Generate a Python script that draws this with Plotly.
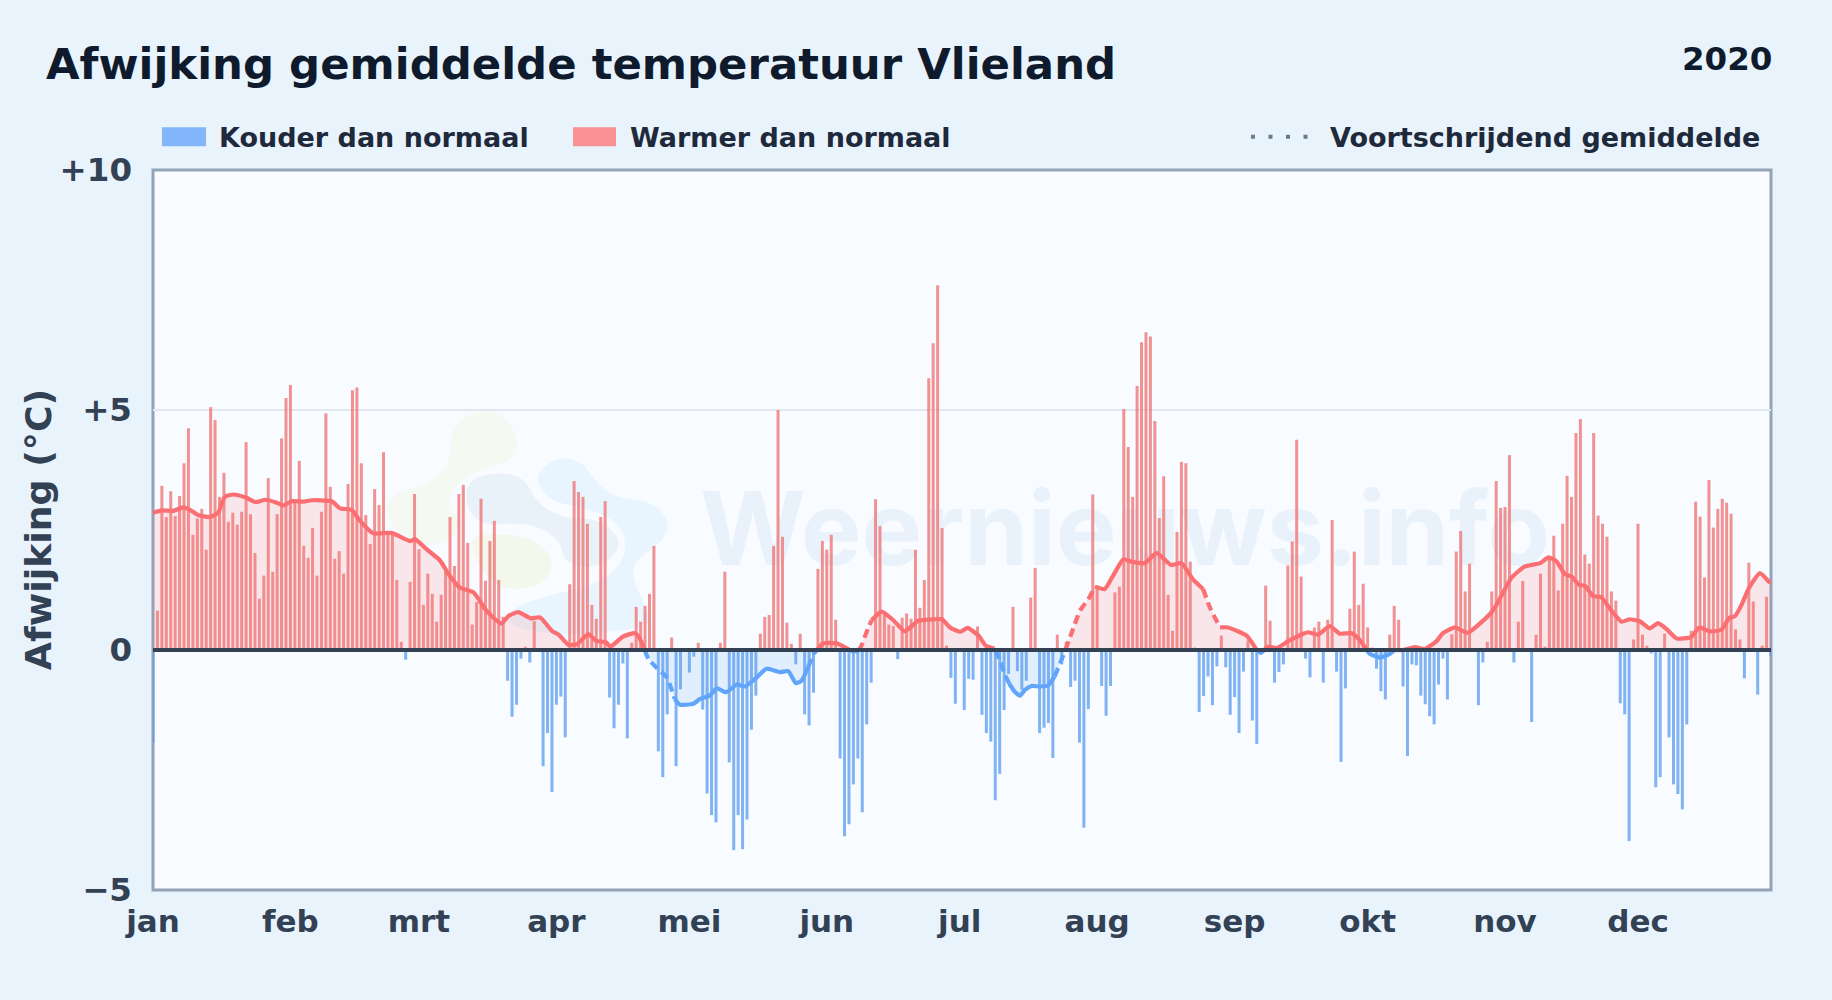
import plotly.graph_objects as go

# ---------- data ----------
month_days = [0, 31, 60, 91, 121, 152, 182, 213, 244, 274, 305, 335]
month_labels = ["jan", "feb", "mrt", "apr", "mei", "jun", "jul", "aug", "sep", "okt", "nov", "dec"]
y_ticks = [-5, 0, 5, 10]
y_labels = ["\u22125", "0", "+5", "+10"]

deviation = [
    -1.94, .82, 3.42, 2.77, 3.31, 2.79, 3.21, 3.89, 4.62, 2.40,
    2.74, 2.94, 2.09, 5.06, 4.79, 3.19, 3.69, 2.67, 2.86, 2.61,
    2.88, 4.33, 2.83, 2.02, 1.07, 1.55, 3.58, 1.63, 2.83, 4.41,
    5.25, 5.52, 3.1, 3.94, 2.17, 1.92, 2.54, 1.55, 2.88, 4.93,
    3.40, 1.90, 2.06, 1.59, 3.46, 5.41, 5.47, 3.89, 2.81, 2.21,
    3.35, 3.02, 4.12, 2.45, 2.45, 1.46, .17, -.2, 1.42, 3.25,
    2.1, .94, 1.59, 1.17, .59, 1.15, 1.65, 2.77, 1.75, 3.25,
    3.44, 2.23, .53, 1.0, 3.15, 1.44, 2.27, 2.69, 1.46, .69,
    -.64, -1.39, -1.14, -.18, .07, -.26, .6, 0, -2.42, -1.73,
    -2.96, -1.14, -.97, -1.82, 1.37, 3.52, 3.29, 3.19, 2.63, .94,
    .65, 2.77, 3.10, -.99, -1.63, -1.14, -.28, -1.84, .15, .90,
    .59, .92, 1.17, 2.17, -2.11, -2.65, -1.34, .26, -2.42, -.82,
    0, -.47, -.14, .15, -1.24, -2.99, -3.44, -3.59, .15, 1.63,
    -2.34, -4.17, -3.44, -4.15, -3.53, -1.66, -.95, .34, .69, .73,
    2.17, 5.0, 2.36, .57, .13, -.3, .34, -1.34, -1.57, -.89,
    1.69, 2.27, 2.09, 2.40, .63, -2.26, -3.88, -3.63, -2.8, -2.26,
    -3.38, -1.55, -.68, 3.14, 2.58, .75, .53, .5, -.19, .67,
    .76, .65, 2.09, .88, 1.46, 5.66, 6.39, 7.6, 2.54, .09,
    -.58, -1.12, 0, -1.25, -.6, -.62, .49, -1.35, -1.73, -1.91,
    -3.13, -2.58, -1.25, -.5, .9, -.44, -.83, -.64, 1.09, 1.71,
    -1.73, -1.62, -1.52, -2.25, .32, -.3, .17, -.77, -.64, -1.93,
    -3.7, -1.23, 3.24, 1.34, -.75, -1.37, -.75, 1.2, 1.32, 5.02,
    4.23, 3.19, 5.5, 6.41, 6.62, 6.53, 4.77, 2.75, 3.62, 1.15,
    .4, 2.46, 3.92, 3.89, 1.84, .05, -1.29, -.96, -.55, -1.15,
    -.34, .3, -.36, -1.35, -.98, -1.73, -.45, .2, -1.47, -1.96,
    0, 1.34, .61, -.68, -.46, -.3, 1.76, 2.26, 4.38, 1.53,
    -.18, -.57, .47, .59, -.68, .63, 2.71, -.45, -2.33, -.8,
    .86, 2.05, .94, 1.38, .47, .05, -.39, -.86, -1.03, .32,
    .92, .63, -.76, -2.21, -.3, -.32, -.95, -1.13, -1.38, -1.55,
    -.72, -.18, -1.03, .33, 2.05, 2.48, 1.22, 1.8, 0, -1.15,
    -.26, .17, 1.22, 3.52, 2.96, 2.98, 4.06, -.26, .59, 1.44,
    0, -1.5, .32, 1.59, .07, 1.9, 2.38, 1.24, 2.63, 3.63,
    3.19, 4.52, 4.81, 1.99, 1.8, 4.52, 2.8, 2.63, 2.36, 1.22,
    1.03, -1.11, -1.34, -3.98, .22, 2.63, .32, .09, -.07, -2.86,
    -2.65, .34, -1.82, -2.8, -3.0, -3.32, -1.55, .4, 3.09, 2.78,
    1.51, 3.54, 2.55, 2.94, 3.15, 3.07, 2.84, .43, .22, -.59,
    1.82, 1.01, -.93, .09, 1.11, -.13,
]

ma_days = [
    0, 2, 4.6, 6.8, 8.7, 10.2, 12.8, 14.7, 16.2, 18.1, 21.1, 23.2, 25.3, 27.9, 29.4, 31.3, 33.9, 35.8,
    40.3, 42.2, 44.8, 46.7, 49.7, 53.8, 58, 59.1, 61.7, 64.7, 66.9, 69.2, 72.3, 75.2, 78.5, 80.2, 82.4,
    85.2, 87.3, 90, 91.5, 93.7, 95.6, 98.2, 100, 102.2, 103.2, 106, 108.7, 109.7, 110.8, 111.8, 113.6,
    115.9, 117.7, 118.9, 121.9, 123.4, 125.6, 127.2, 129.3, 131.7, 133.5, 136.2, 138.4, 141.4, 143.3,
    145, 146.3, 147.8, 149, 149.7, 151.2, 154.2, 156, 158.3, 159.5, 161.3, 162.1, 164.4, 167, 169.6,
    172.6, 174.5, 178, 179.8, 182.1, 183.8, 186.2, 187.9, 189.8, 191, 192.2, 193.1, 194.4, 195.6, 196.7,
    198.2, 200, 201.9, 203.4, 204.6, 205.7, 207.4, 209.1, 211, 212.5, 214.7, 216.6, 218.9, 220.7, 223.7,
    226.4, 229.7, 232, 234.7, 236.9, 238.4, 240.7, 242.5, 246.7, 249, 249.9, 251.6, 253.5, 256, 259.5,
    260.6, 262.8, 265.5, 267.7, 270.4, 272.2, 273.8, 274.5, 276.8, 279, 280.1, 282, 284.7, 286.9, 289.5,
    291, 293.7, 296.6, 301.6, 303, 306.5, 309.5, 312.9, 314.8, 316.6, 318.5, 320, 321.8, 323, 324.9,
    326.7, 329, 331.3, 333.1, 335.4, 337.7, 339.5, 341.4, 343.7, 347, 348.8, 351.2, 353.8, 355.6, 356.8,
    358.3, 359.8, 360.6, 362.5, 364.7, 365,
]
ma_values = [
    2.86, 2.91, 2.90, 2.97, 2.90, 2.81, 2.77, 2.86, 3.19, 3.24, 3.17, 3.08, 3.13, 3.07, 3.01, 3.10, 3.09, 3.12,
    3.10, 2.95, 2.92, 2.69, 2.43, 2.44, 2.27, 2.31, 2.10, 1.87, 1.55, 1.30, 1.20, .82, .55, .71, .79,
    .66, .68, .40, .32, .11, .12, .33, .19, .16, .07, .28, .35, .26, .02, -.19, -.37,
    -.57, -1.02, -1.14, -1.12, -1.02, -.95, -.80, -.88, -.72, -.76, -.57, -.39, -.46, -.44,
    -.69, -.64, -.36, -.08, -.01, .14, .14, .06, -.05, .03, .45, .62, .80, .62, .39,
    .61, .63, .64, .47, .38, .46, .30, .09, .03, -.21, -.52, -.69, -.87, -.95, -.83,
    -.75, -.76, -.74, -.55, -.28, -.03, .40, .82, 1.06, 1.32, 1.27, 1.55, 1.89, 1.84, 1.81,
    2.02, 1.77, 1.81, 1.46, 1.27, .89, .47, .47, .30, 0, -.06, .07, .04, .18, .34,
    .37, .32, .50, .34, .35, .21, 0, -.08, -.16, -.08, 0, 0, .06, .02, .18,
    .35, .47, .36, .75, .93, 1.51, 1.74, 1.81, 1.93, 1.85, 1.58, 1.53, 1.35, 1.34, 1.12,
    1.10, .82, .59, .64, .60, .45, .56, .44, .24, .27, .47, .39, .42, .67, .70,
    .93, 1.25, 1.38, 1.60, 1.41, 1.40,
]
ma_dashed_ranges = [(110.5, 118), (147.5, 150), (158.5, 162.5), (189.8, 193.1), (203, 212.5), (237.5, 240.2)]

# ---------- styles / geometry ----------
FONT = "DejaVu Sans"
PL, PR, PT, PB = 153, 1771, 169.7, 890
RED_BAR, BLUE_BAR = "rgba(239,110,110,0.75)", "rgba(88,155,238,0.75)"
RED_LINE, BLUE_LINE = "#fb6f72", "#60a5fa"
RED_FILL, BLUE_FILL = "rgba(248,113,113,0.15)", "rgba(96,165,250,0.15)"
DARK, TEXT2, TICK = "#0f1b2d", "#1e293b", "#334155"


def px(x):
    return (x - PL) / (PR - PL)


def py(y):
    return (PB - y) / (PB - PT)


# split the running mean at zero and by line style
points = []
for k, (d, v) in enumerate(zip(ma_days, ma_values)):
    if k and (ma_values[k - 1] * v < 0):
        d0, v0 = ma_days[k - 1], ma_values[k - 1]
        points.append((d0 + (d - d0) * (0 - v0) / (v - v0), 0.0))
    points.append((d, v))


def is_dashed(d):
    return any(a <= d <= b for a, b in ma_dashed_ranges)


segments = {}
prev_key = None
for (x0, y0), (x1, y1) in zip(points[:-1], points[1:]):
    mid_y = (y0 + y1) / 2
    key = (mid_y >= 0, is_dashed((x0 + x1) / 2))
    xs, ys = segments.setdefault(key, ([], []))
    if key != prev_key:
        if xs:
            xs.append(None)
            ys.append(None)
        xs.append(x0)
        ys.append(y0)
    xs.append(x1)
    ys.append(y1)
    prev_key = key

fig = go.Figure()

# area between running mean and zero
for sign, colour in ((1, RED_FILL), (-1, BLUE_FILL)):
    fig.add_trace(go.Scatter(
        x=[p[0] for p in points],
        y=[max(p[1], 0) if sign > 0 else min(p[1], 0) for p in points],
        mode="lines", line=dict(width=0, color=colour), fill="tozeroy", fillcolor=colour,
        hoverinfo="skip", showlegend=False))

days = list(range(len(deviation)))
BAR_W = 0.677
fig.add_trace(go.Bar(x=days, y=[v if v < 0 else None for v in deviation], width=BAR_W,
                     marker=dict(color=BLUE_BAR, line_width=0), name="Kouder dan normaal", showlegend=False))
fig.add_trace(go.Bar(x=days, y=[v if v >= 0 else None for v in deviation], width=BAR_W,
                     marker=dict(color=RED_BAR, line_width=0), name="Warmer dan normaal", showlegend=False))

for (warm, dashed), (xs, ys) in segments.items():
    fig.add_trace(go.Scatter(
        x=xs, y=ys, mode="lines",
        line=dict(color=RED_LINE if warm else BLUE_LINE, width=4.2, dash="9px,5px" if dashed else "solid",
                  shape="spline", smoothing=0.5),
        name="Voortschrijdend gemiddelde", showlegend=False, hoverinfo="skip"))


# decorative logo blobs, drawn in zoom-crop coordinates (origin 330,390, 3x)
def blob(pts):
    real = [(px(330 + a / 3), py(390 + b / 3)) for a, b in pts]
    n = len(real)
    mids = [((real[i][0] + real[(i + 1) % n][0]) / 2, (real[i][1] + real[(i + 1) % n][1]) / 2) for i in range(n)]
    path = f"M{mids[-1][0]},{mids[-1][1]} "
    for i in range(n):
        path += f"Q{real[i][0]},{real[i][1]} {mids[i][0]},{mids[i][1]} "
    return path + "Z"


blobs = [
    ("#f4f9f1", [(360, 120), (430, 62), (520, 68), (568, 150), (548, 212), (450, 240), (385, 275), (350, 340),
                 (395, 400), (350, 465), (230, 455), (165, 380), (185, 312), (300, 280), (365, 215)]),
    ("#e9f1f9", [(410, 270), (500, 245), (585, 262), (620, 340), (700, 385), (800, 385), (870, 440), (860, 495),
                 (790, 535), (705, 520), (690, 450), (620, 405), (530, 398), (470, 408), (408, 360)]),
    ("#f3f8ec", [(420, 440), (520, 428), (625, 450), (675, 520), (640, 585), (530, 602), (470, 560), (430, 495)]),
    ("#e9f5fe", [(618, 250), (680, 200), (755, 212), (800, 280), (860, 325), (965, 332), (1025, 400), (985, 468),
                 (915, 510), (905, 560), (945, 650), (965, 705), (850, 725), (700, 735), (555, 718), (525, 668),
                 (620, 625), (760, 592), (860, 545), (892, 470), (870, 400), (780, 355), (680, 340), (630, 300)]),
]
shapes = [dict(type="path", path=blob(p), xref="paper", yref="paper", fillcolor=c, line_width=0, layer="below")
          for c, p in blobs]

# watermark below the marks
shapes.append(dict(type="rect", xref="paper", yref="paper", x0=px(650), x1=px(1600), y0=py(465), y1=py(585),
                   fillcolor="rgba(0,0,0,0)", line_width=0, layer="below",
                   label=dict(text="Weernieuws.info", textposition="middle center",
                              font=dict(family="Inter", size=102, color="#e9f2fa", weight=700))))

# plot frame straddling the plot edge (below the bars) and the zero line on top
shapes.append(dict(type="rect", xref="paper", yref="paper", x0=0, x1=1, y0=0, y1=1,
                   fillcolor="rgba(0,0,0,0)", line=dict(color="#94a3b8", width=3), layer="below"))
shapes.append(dict(type="line", xref="paper", yref="y", x0=0, x1=1, y0=0, y1=0,
                   line=dict(color=TICK, width=3.8), layer="above"))

# legend swatches
shapes += [
    dict(type="rect", xref="paper", yref="paper", x0=px(162), x1=px(206), y0=py(146), y1=py(127),
         fillcolor="#82b6fa", line_width=0),
    dict(type="rect", xref="paper", yref="paper", x0=px(573), x1=px(616), y0=py(146), y1=py(127),
         fillcolor="#f99195", line_width=0),
    dict(type="line", xref="paper", yref="paper", x0=px(1251), x1=px(1309), y0=py(136.5), y1=py(136.5),
         line=dict(color="#6b7b8c", width=4, dash="4px,13.5px")),
]


def note(text, x, y, size, color, anchor="left", angle=0):
    return dict(text=f"<b>{text}</b>", x=px(x), y=py(y), xref="paper", yref="paper", xanchor=anchor, yanchor="middle",
                showarrow=False, textangle=angle, font=dict(family=FONT, size=size, color=color))


annotations = [
    note("Afwijking gemiddelde temperatuur Vlieland", 44, 64, 43.4, DARK),
    note("2020", 1774, 59, 32.5, DARK, "right"),
    note("Kouder dan normaal", 217, 137, 27, TEXT2),
    note("Warmer dan normaal", 628, 137, 27, TEXT2),
    note("Voortschrijdend gemiddelde", 1328, 137, 27, TEXT2),
    note("Afwijking (\u00b0C)", 38, 530, 36.3, TICK, "center", -90),
]

fig.update_layout(
    width=1832, height=1000, autosize=False,
    margin=dict(l=PL, r=1832 - PR, t=PT, b=1000 - PB, pad=0),
    paper_bgcolor="#e8f3fc", plot_bgcolor="#f8fbff",
    barmode="overlay", showlegend=False, hovermode=False,
    shapes=shapes, annotations=annotations,
    font=dict(family=FONT),
    xaxis=dict(range=[0, 365], tickmode="array", tickvals=month_days, ticktext=[f"<b>{m}</b>" for m in month_labels],
               showgrid=False, zeroline=False, showline=False,
               ticks="outside", ticklen=4, tickcolor="rgba(0,0,0,0)", tickangle=0,
               tickfont=dict(family=FONT, size=31, color=TICK)),
    yaxis=dict(range=[-5, 10], tickmode="array", tickvals=y_ticks, ticktext=[f"<b>{t}</b>" for t in y_labels],
               showgrid=True, gridcolor="#e2e8f0", gridwidth=2, zeroline=False, showline=False,
               ticks="outside", ticklen=13.5, tickcolor="rgba(0,0,0,0)",
               tickfont=dict(family=FONT, size=32.5, color=TICK)),
)

fig.write_html("out.html", config=dict(displayModeBar=False),
               post_script="document.body.style.margin='0';document.documentElement.style.overflow='hidden';")
